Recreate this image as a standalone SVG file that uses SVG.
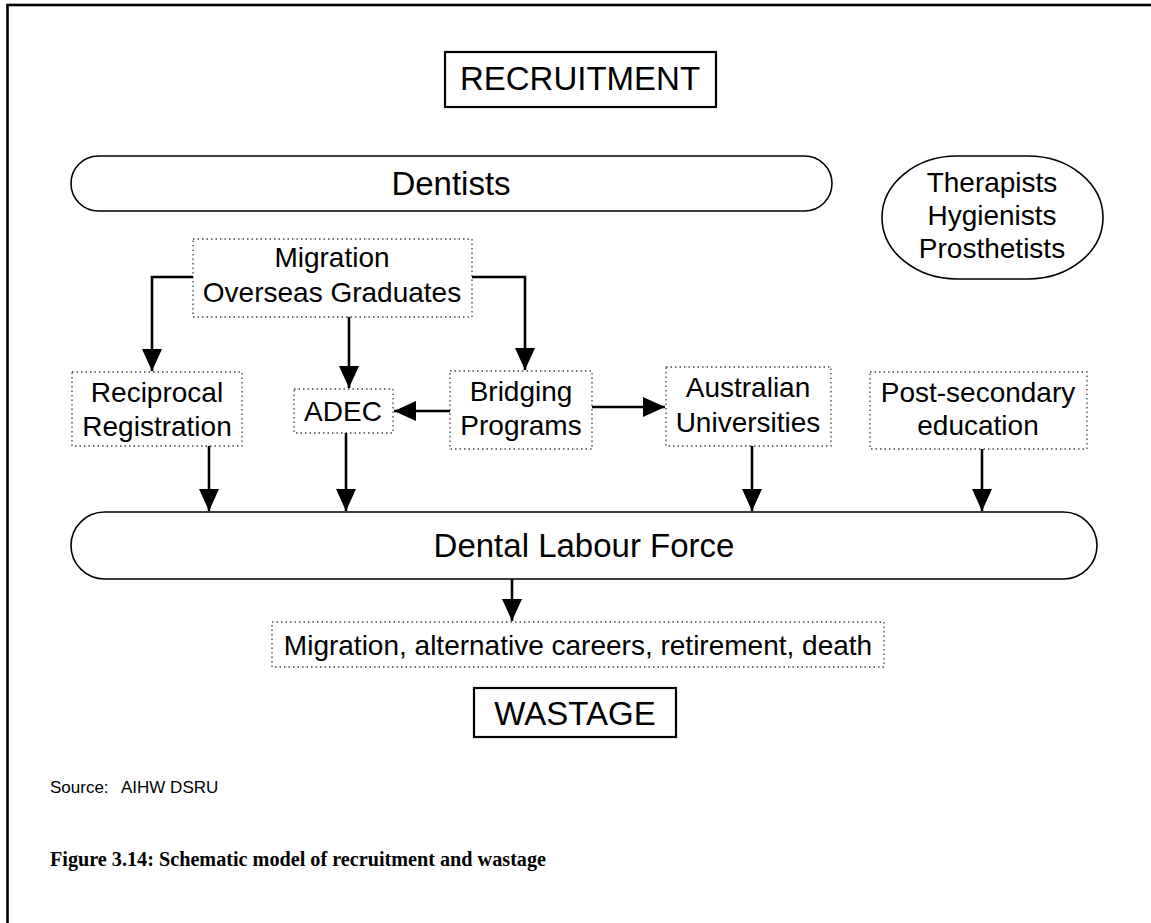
<svg xmlns="http://www.w3.org/2000/svg" width="1151" height="923" viewBox="0 0 1151 923">
<style>
.t{font-family:"Liberation Sans",Arial,sans-serif;fill:#000;text-anchor:middle}
.big{font-size:33px}
.sm{font-size:28px}
.solid{fill:#fff;stroke:#000;stroke-width:1.6}
.box{fill:#fff;stroke:#000;stroke-width:2.2}
.dot{fill:#fff;stroke:#444;stroke-width:1.3;stroke-dasharray:1.5 3}
.c{fill:none;stroke:#000;stroke-width:2.6}
.src{font-family:"Liberation Sans",Arial,sans-serif;font-size:17px}
</style>
<defs>
<marker id="ah" markerUnits="userSpaceOnUse" markerWidth="22" markerHeight="20" refX="22" refY="10" orient="auto">
<path d="M0,0 L22,10 L0,20 z" fill="#000"/>
</marker>
</defs>
<rect x="0" y="0" width="1151" height="923" fill="#fff"/>
<rect x="7.5" y="5" width="1160" height="930" fill="none" stroke="#000" stroke-width="2.6"/>

<g id="recruitment">
<rect class="box" x="445" y="52" width="271" height="55"/>
<text class="t big" x="580" y="90">RECRUITMENT</text>
</g>
<g id="dentists">
<rect class="solid" x="71" y="156" width="761" height="55" rx="27.5" ry="27.5"/>
<text class="t big" x="451" y="195">Dentists</text>
</g>
<g id="therapists">
<rect class="solid" x="882" y="156" width="221" height="123" rx="75" ry="61.5"/>
<text class="t sm" x="992" y="192">Therapists</text>
<text class="t sm" x="992" y="225">Hygienists</text>
<text class="t sm" x="992" y="258">Prosthetists</text>
</g>
<g id="migration">
<rect class="dot" x="193" y="239" width="279" height="78"/>
<text class="t sm" x="332" y="267">Migration</text>
<text class="t sm" x="332" y="302">Overseas Graduates</text>
</g>
<g id="reciprocal">
<rect class="dot" x="72" y="372" width="170" height="74"/>
<text class="t sm" x="157" y="402">Reciprocal</text>
<text class="t sm" x="157" y="436">Registration</text>
</g>
<g id="adec">
<rect class="dot" x="294" y="389" width="99" height="44"/>
<text class="t sm" x="343" y="421">ADEC</text>
</g>
<g id="bridging">
<rect class="dot" x="450" y="371" width="142" height="78"/>
<text class="t sm" x="521" y="401">Bridging</text>
<text class="t sm" x="521" y="435">Programs</text>
</g>
<g id="australian">
<rect class="dot" x="666" y="367" width="165" height="79"/>
<text class="t sm" x="748" y="397">Australian</text>
<text class="t sm" x="748" y="432">Universities</text>
</g>
<g id="postsecondary">
<rect class="dot" x="870" y="372" width="217" height="77"/>
<text class="t sm" x="978" y="402">Post-secondary</text>
<text class="t sm" x="978" y="435">education</text>
</g>
<g id="labourforce">
<rect class="solid" x="71" y="512" width="1026" height="67" rx="33.5" ry="33.5"/>
<text class="t big" x="584" y="557">Dental Labour Force</text>
</g>
<g id="wastage-causes">
<rect class="dot" x="272" y="622" width="612" height="45"/>
<text class="t sm" x="578" y="655">Migration, alternative careers, retirement, death</text>
</g>
<g id="wastage">
<rect class="box" x="474" y="688" width="202" height="49"/>
<text class="t big" x="575" y="725">WASTAGE</text>
</g>

<g id="connectors">
<path class="c" d="M193,277 H152 V371" marker-end="url(#ah)"/>
<path class="c" d="M472,277 H525 V370" marker-end="url(#ah)"/>
<path class="c" d="M349,317 V388" marker-end="url(#ah)"/>
<path class="c" d="M450,411 H394" marker-end="url(#ah)"/>
<path class="c" d="M592,407 H665" marker-end="url(#ah)"/>
<path class="c" d="M209,446 V511" marker-end="url(#ah)"/>
<path class="c" d="M346,433 V511" marker-end="url(#ah)"/>
<path class="c" d="M752,446 V511" marker-end="url(#ah)"/>
<path class="c" d="M982,449 V511" marker-end="url(#ah)"/>
<path class="c" d="M512,579 V621" marker-end="url(#ah)"/>
</g>

<text class="src" x="50" y="793">Source:</text>
<text class="src" x="121" y="793">AIHW DSRU</text>
<text x="50" y="866" style="font-family:'Liberation Serif','Times New Roman',serif;font-size:20.2px;font-weight:bold">Figure 3.14: Schematic model of recruitment and wastage</text>
</svg>
